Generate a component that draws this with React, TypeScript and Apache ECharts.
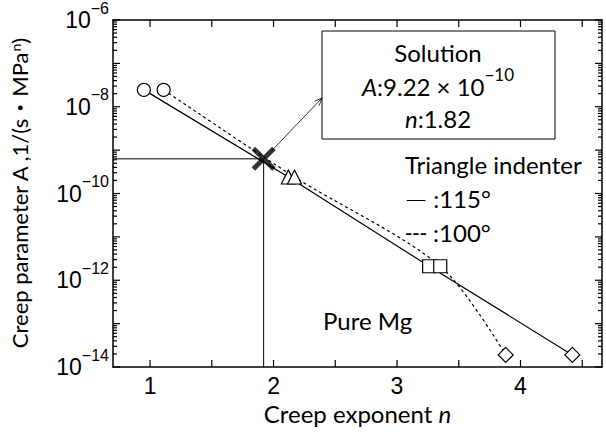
import React, { useEffect, useRef } from 'react';
import * as echarts from 'echarts';

// ---- data ----
const solidN = [0.95, 2.12, 3.26, 4.42];
const solidA = [2.45e-8, 2.4e-10, 2.1e-12, 1.9e-14];
const dashedN = [1.11, 2.17, 3.35, 3.88];
const dashedA = [2.45e-8, 2.4e-10, 2.1e-12, 1.9e-14];
const markerShapes = ['circle', 'triangle', 'rect', 'diamond'];
const markerSizes = [13, 14, 13, 15];
const solutionN = 1.92;
const solutionA = 6.3e-10;
const xTicks = [1, 1.5, 2, 2.5, 3, 3.5, 4, 4.5];
const xTickLabels = [1, 2, 3, 4];
const yDecadeExps = [-14, -13, -12, -11, -10, -9, -8, -7, -6];
const yLabelExps = [-14, -12, -10, -8, -6];
const minorMultipliers = [2, 3, 4, 5, 6, 7, 8, 9];

const X_MIN = 0.7;
const X_MAX = 4.66;
const Y_MIN_EXP = -14;
const Y_MAX_EXP = -6;

const TXT = 'Lato, "Noto Sans CJK JP", sans-serif';
const NUM = '"Liberation Sans", Arial, sans-serif';

// the y axis is a decade (log10) scale
const lg = (v: number) => Math.log10(v);

const yMajorTickData = yDecadeExps.map((e) => [X_MIN, e]);
const yMinorTickData: number[][] = [];
yDecadeExps.slice(0, -1).forEach((e) => {
  minorMultipliers.forEach((m) => yMinorTickData.push([X_MIN, lg(m * Math.pow(10, e))]));
});
const xTickData = xTicks.map((v) => [v, Y_MIN_EXP]);

function seriesData(ns: number[], as: number[]) {
  return ns.map((n, i) => ({
    value: [n, lg(as[i])],
    symbol: markerShapes[i],
    symbolSize: markerSizes[i],
  }));
}

function xTickSeries(data: number[][], len: number) {
  return {
    type: 'custom',
    data,
    z: 4,
    renderItem: (_params: any, api: any) => {
      const x = api.value(0);
      const b = api.coord([x, Y_MIN_EXP]);
      const t = api.coord([x, Y_MAX_EXP]);
      return {
        type: 'group',
        children: [
          { type: 'rect', shape: { x: b[0] - 0.6, y: b[1] - len, width: 1.2, height: len }, style: { fill: '#000' } },
          { type: 'rect', shape: { x: t[0] - 0.6, y: t[1], width: 1.2, height: len }, style: { fill: '#000' } },
        ],
      };
    },
  };
}

function yTickSeries(data: number[][], len: number) {
  return {
    type: 'custom',
    data,
    z: 4,
    renderItem: (_params: any, api: any) => {
      const y = api.value(1);
      const l = api.coord([X_MIN, y]);
      const r = api.coord([X_MAX, y]);
      return {
        type: 'group',
        children: [
          { type: 'rect', shape: { x: l[0], y: l[1] - 0.6, width: len, height: 1.2 }, style: { fill: '#000' } },
          { type: 'rect', shape: { x: r[0] - len, y: r[1] - 0.6, width: len, height: 1.2 }, style: { fill: '#000' } },
        ],
      };
    },
  };
}

const supRich = {
  b: { fontSize: 23, fontFamily: NUM, lineHeight: 40, color: '#000' },
  s: { fontSize: 16, fontFamily: NUM, lineHeight: 16, verticalAlign: 'top', color: '#000' },
};

const frameLine = { show: true, lineStyle: { color: '#000', width: 1.5 } };

export default function App() {
  const ref = useRef<HTMLDivElement>(null);
  useEffect(() => {
    if (!ref.current) return;
    const chart = echarts.init(ref.current, null, { renderer: 'svg' });
    const option: any = {
      animation: false,
      grid: { left: 112, right: 4, top: 20, bottom: 76, containLabel: false },
      xAxis: [
        {
          type: 'value',
          min: X_MIN,
          max: X_MAX,
          position: 'bottom',
          name: 'Creep exponent {i|n}',
          nameLocation: 'middle',
          nameGap: 34,
          nameTextStyle: {
            fontFamily: TXT,
            fontSize: 24,
            color: '#000',
            rich: { i: { fontFamily: TXT, fontSize: 24, fontStyle: 'italic', color: '#000' } },
          },
          axisLine: frameLine,
          axisTick: { show: false },
          axisLabel: { show: true, margin: 7, customValues: xTickLabels, fontFamily: NUM, fontSize: 23, color: '#000' },
          splitLine: { show: false },
        },
        {
          type: 'value',
          min: X_MIN,
          max: X_MAX,
          position: 'top',
          axisLine: frameLine,
          axisTick: { show: false },
          axisLabel: { show: false },
          splitLine: { show: false },
        },
      ],
      yAxis: [
        {
          type: 'value',
          min: Y_MIN_EXP,
          max: Y_MAX_EXP,
          interval: 1,
          position: 'left',
          axisLine: frameLine,
          axisTick: { show: false },
          axisLabel: {
            show: true,
            margin: 4,
            customValues: yLabelExps,
            formatter: (v: number) => `{b|10}{s|−${-Math.round(v)}}`,
            rich: supRich,
          },
          splitLine: { show: false },
          name: 'Creep parameter A ,1/(s・MPa{s|n})',
          nameLocation: 'middle',
          nameGap: 83,
          nameRotate: 90,
          nameTextStyle: {
            fontFamily: TXT,
            fontSize: 22,
            color: '#000',
            rich: { s: { fontFamily: TXT, fontSize: 14, verticalAlign: 'top', lineHeight: 14, color: '#000' } },
          },
        },
        {
          type: 'value',
          min: Y_MIN_EXP,
          max: Y_MAX_EXP,
          interval: 1,
          position: 'right',
          axisLine: frameLine,
          axisTick: { show: false },
          axisLabel: { show: false },
          splitLine: { show: false },
        },
      ],
      series: [
        {
          name: 'guide',
          type: 'line',
          data: [
            [X_MIN, lg(solutionA)],
            [solutionN, lg(solutionA)],
            [solutionN, Y_MIN_EXP],
          ],
          symbol: 'none',
          lineStyle: { color: '#000', width: 1 },
          z: 1,
        },
        {
          name: '115°',
          type: 'line',
          data: seriesData(solidN, solidA),
          lineStyle: { color: '#000', width: 1.2 },
          itemStyle: { color: '#fff', borderColor: '#000', borderWidth: 1.2 },
          z: 3,
        },
        {
          name: '100°',
          type: 'line',
          smooth: 0.3,
          data: seriesData(dashedN, dashedA),
          lineStyle: { color: '#000', width: 1.2, type: [3, 3] },
          itemStyle: { color: '#fff', borderColor: '#000', borderWidth: 1.2 },
          z: 3,
        },
        {
          name: 'Solution',
          type: 'scatter',
          data: [[solutionN, lg(solutionA)]],
          symbol:
            'path://M0,3.5L3.5,0L12,8.5L20.5,0L24,3.5L15.5,12L24,20.5L20.5,24L12,15.5L3.5,24L0,20.5L8.5,12Z',
          symbolSize: 24,
          itemStyle: { color: '#000' },
          z: 5,
        },
        xTickSeries(xTickData, 7),
        yTickSeries(yMajorTickData, 7),
        yTickSeries(yMinorTickData, 4),
      ],
    };
    chart.setOption(option);

    const p = chart.convertToPixel({ xAxisIndex: 0, yAxisIndex: 0 }, [solutionN, lg(solutionA)]) as number[];
    const start = [p[0] + 8, p[1] - 8];
    const end = [322, 98];
    const ang = Math.atan2(end[1] - start[1], end[0] - start[0]);
    const head = 8;
    const spread = 0.4;
    const h1 = [end[0] - head * Math.cos(ang - spread), end[1] - head * Math.sin(ang - spread)];
    const h2 = [end[0] - head * Math.cos(ang + spread), end[1] - head * Math.sin(ang + spread)];

    const textStyle = (text: string, extra: any = {}) => ({
      text,
      fontFamily: TXT,
      fontSize: 24,
      fill: '#000',
      ...extra,
    });
    const centered = { align: 'center', verticalAlign: 'middle', textAlign: 'center', textVerticalAlign: 'middle' };
    const leftMid = { verticalAlign: 'middle', textVerticalAlign: 'middle' };
    const dashRich = {
      d: { fontFamily: '"Noto Sans CJK JP", sans-serif', fontSize: 22, fill: '#000' },
      h: { fontFamily: NUM, fontSize: 22, fill: '#000' },
    };

    chart.setOption({
      graphic: [
        {
          type: 'line',
          shape: { x1: start[0], y1: start[1], x2: end[0], y2: end[1] },
          style: { stroke: '#000', lineWidth: 0.8 },
          z: 10,
        },
        {
          type: 'polyline',
          shape: { points: [h1, end, h2] },
          style: { stroke: '#000', lineWidth: 0.8, fill: 'none' },
          z: 10,
        },
        {
          type: 'rect',
          shape: { x: 322, y: 31, width: 233, height: 108 },
          style: { fill: '#fff', stroke: '#000', lineWidth: 1 },
          z: 10,
        },
        { type: 'text', x: 438, y: 52, style: textStyle('Solution', centered), z: 11 },
        {
          type: 'text',
          x: 438,
          y: 86,
          style: textStyle('{i|A}:9.22 × 10{s|−10}', {
            ...centered,
            rich: {
              i: { fontFamily: TXT, fontSize: 24, fontStyle: 'italic', lineHeight: 40, fill: '#000' },
              s: { fontFamily: TXT, fontSize: 17, lineHeight: 17, verticalAlign: 'top', fill: '#000' },
            },
          }),
          z: 11,
        },
        {
          type: 'text',
          x: 438,
          y: 118,
          style: textStyle('{i|n}:1.82', {
            ...centered,
            rich: { i: { fontFamily: TXT, fontSize: 24, fontStyle: 'italic', fill: '#000' } },
          }),
          z: 11,
        },
        { type: 'text', x: 405, y: 164, style: textStyle('Triangle indenter', leftMid), z: 11 },
        {
          type: 'text',
          x: 405,
          y: 198,
          style: textStyle('{d|―} :115°', { ...leftMid, rich: dashRich }),
          z: 11,
        },
        {
          type: 'text',
          x: 405,
          y: 232,
          style: textStyle('{h|---} :100°', { ...leftMid, rich: dashRich }),
          z: 11,
        },
        { type: 'text', x: 323, y: 320, style: textStyle('Pure Mg', leftMid), z: 11 },
      ],
    });

    return () => chart.dispose();
  }, []);
  return <div ref={ref} style={{ position: 'fixed', left: 0, top: 0, width: 606, height: 443, background: '#fff' }} />;
}
